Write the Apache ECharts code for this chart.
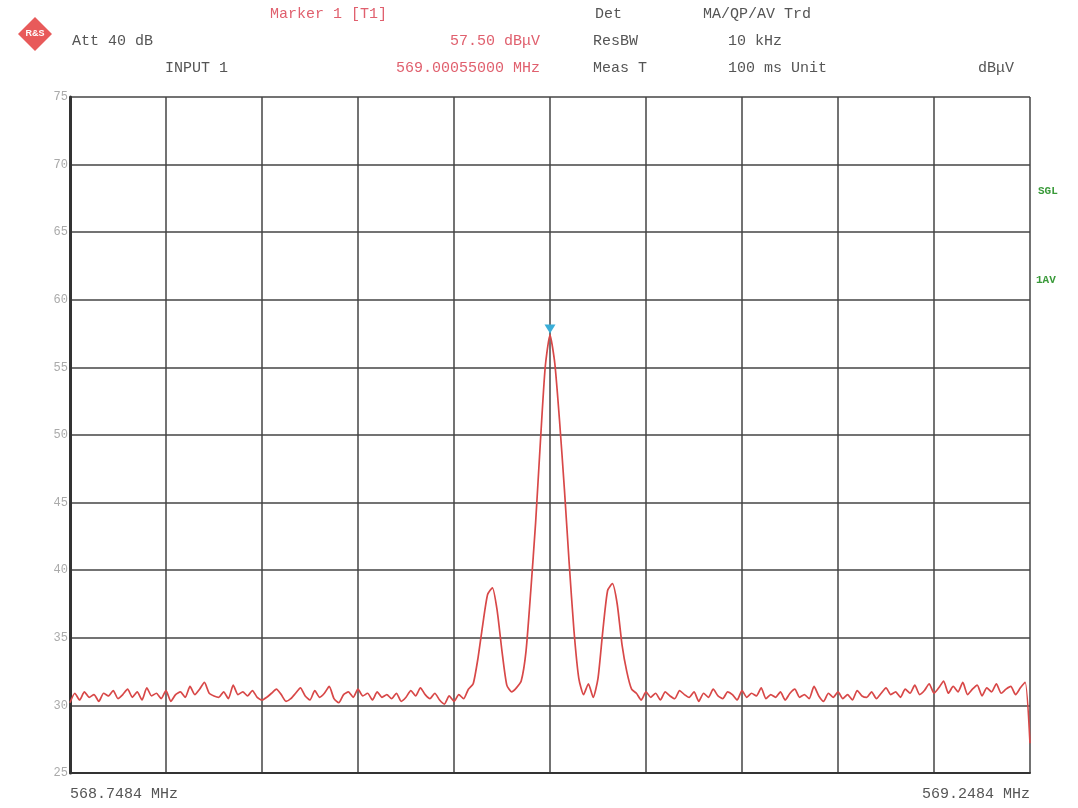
<!DOCTYPE html>
<html>
<head>
    <meta charset="utf-8">
    <title>Spectrum</title>
    <script src="https://cdn.jsdelivr.net/npm/echarts@6/dist/echarts.min.js"></script>
    <style>
        html, body { margin: 0; padding: 0; background: #fff; }
        #chart { width: 1078px; height: 808px; }
    </style>
</head>
<body>
<div id="chart"></div>
<script type="text/javascript">
    // span 568.7484 .. 569.2484 MHz, 2.5 kHz per point (offset in kHz)
    var stepKHz = 2.5;
    var startLabel = '568.7484 MHz';
    var stopLabel = '569.2484 MHz';
    var yTicks = [25, 30, 35, 40, 45, 50, 55, 60, 65, 70, 75];

    // trace levels in dBuV
    var levelsLeft = [
        30.2, 30.9, 30.4, 31.0, 30.6, 30.8, 30.3, 30.9, 30.7, 31.1,
        30.5, 30.8, 31.2, 30.6, 31.0, 30.4, 31.3, 30.7, 30.9, 30.5,
        31.1, 30.3, 30.8, 31.0, 30.6, 31.4, 30.8, 31.2, 31.7, 30.9,
        30.7, 30.6, 31.0, 30.5, 31.5, 30.8, 31.0, 30.7, 31.1, 30.6,
        30.4, 30.6, 30.9, 31.2, 30.8, 30.3, 30.5, 30.9, 31.3, 30.7,
        30.4, 31.1, 30.6, 30.9, 31.4, 30.5, 30.2, 30.8, 31.0, 30.6,
        31.2, 30.7, 30.9, 30.4, 31.0, 30.6, 30.8, 30.5, 30.9, 30.3,
        30.6, 31.1, 30.7, 31.3, 30.8, 30.5, 30.9, 30.4, 30.1, 30.7
    ];
    var levelsPeak = [
        30.3, 30.8, 30.5, 31.2, 31.6, 33.5, 36.0, 38.2, 38.7, 37.0,
        34.0, 31.5, 31.0, 31.3, 31.8, 34.0, 38.5, 43.5, 49.5, 55.0,
        57.4, 55.3, 51.0, 46.0, 40.5, 35.5, 32.0, 30.8, 31.6, 30.6,
        32.0, 35.5, 38.5, 39.0, 37.5, 34.5, 32.5, 31.2, 30.9, 30.4,
        31.0
    ];
    var levelsRight = [
        30.6, 30.9, 30.4, 31.0, 30.7, 30.5, 31.1, 30.8, 30.6, 31.0,
        30.3, 30.9, 30.6, 31.2, 30.7, 30.5, 31.0, 30.8, 30.4, 31.1,
        30.6, 30.9, 30.7, 31.3, 30.5, 30.8, 30.6, 31.0, 30.4, 30.9,
        31.2, 30.6, 30.8, 30.5, 31.4, 30.7, 30.3, 30.9, 30.6, 31.0,
        30.5, 30.8, 30.4, 31.1, 30.7, 30.6, 31.0, 30.5, 30.9, 31.3,
        30.8, 31.0, 30.6, 31.2, 30.9, 31.5, 30.8, 31.1, 31.6, 30.9,
        31.3, 31.8, 30.9, 31.4, 31.0, 31.7, 30.8, 31.2, 31.5, 30.7,
        31.3, 31.0, 31.6, 30.9, 31.2, 31.4, 30.8, 31.3, 31.7, 27.2
    ];
    var markerKHz = 250;
    var markerLevel = 57.4;

    var levels = levelsLeft.concat(levelsPeak, levelsRight);
    var trace = levels.map(function (v, i) { return [i * stepKHz, v]; });

    var mono = '"Liberation Mono", "DejaVu Sans Mono", monospace';
    var grey = '#555';
    var pink = '#e0606e';

    var myChart = echarts.init(document.getElementById('chart'));
    var option = {
        backgroundColor: '#fff',
        animation: false,
        grid: { left: 70, right: 48, top: 97, bottom: 35 },
        xAxis: {
            type: 'value', min: 0, max: 500, interval: 50,
            axisLabel: { show: false }, axisTick: { show: false },
            axisLine: { lineStyle: { color: '#333', width: 2 } },
            splitLine: { lineStyle: { color: '#444', width: 1.5 } }
        },
        yAxis: {
            type: 'value', min: 25, max: 75, interval: 5,
            axisLabel: { color: '#aaa', fontFamily: mono, fontSize: 12, margin: 2 },
            axisTick: { show: false },
            axisLine: { show: true, lineStyle: { color: '#333', width: 3 } },
            splitLine: { lineStyle: { color: '#444', width: 1.5 } }
        },
        series: [{
            type: 'line',
            data: trace,
            showSymbol: false,
            smooth: 0.2,
            lineStyle: { color: '#d84848', width: 1.7 },
            markPoint: {
                symbol: 'triangle', symbolRotate: 180, symbolSize: [11, 9],
                symbolOffset: [0, -6],
                itemStyle: { color: '#3aaed8' },
                label: { show: false },
                data: [{ coord: [markerKHz, markerLevel] }]
            }
        }],
        graphic: [
            { type: 'rect', shape: { x: -12, y: -12, width: 24, height: 24 }, x: 35, y: 34, rotation: Math.PI / 4,
              style: { fill: '#e85a5a' } },
            { type: 'text', x: 35, y: 34, style: { text: 'R&S', fill: '#fff', font: 'bold 9px sans-serif', align: 'center', verticalAlign: 'middle' } },
            { type: 'text', x: 72, y: 34, style: { text: 'Att 40 dB', fill: grey, font: '15px ' + mono } },
            { type: 'text', x: 165, y: 61, style: { text: 'INPUT 1', fill: grey, font: '15px ' + mono } },
            { type: 'text', x: 270, y: 7, style: { text: 'Marker 1 [T1]', fill: pink, font: '15px ' + mono } },
            { type: 'text', x: 540, y: 34, style: { text: '57.50 dBμV', fill: pink, font: '15px ' + mono, align: 'right' } },
            { type: 'text', x: 540, y: 61, style: { text: '569.00055000 MHz', fill: pink, font: '15px ' + mono, align: 'right' } },
            { type: 'text', x: 595, y: 7, style: { text: 'Det', fill: grey, font: '15px ' + mono } },
            { type: 'text', x: 593, y: 34, style: { text: 'ResBW', fill: grey, font: '15px ' + mono } },
            { type: 'text', x: 593, y: 61, style: { text: 'Meas T', fill: grey, font: '15px ' + mono } },
            { type: 'text', x: 703, y: 7, style: { text: 'MA/QP/AV Trd', fill: grey, font: '15px ' + mono } },
            { type: 'text', x: 728, y: 34, style: { text: '10 kHz', fill: grey, font: '15px ' + mono } },
            { type: 'text', x: 728, y: 61, style: { text: '100 ms Unit', fill: grey, font: '15px ' + mono } },
            { type: 'text', x: 978, y: 61, style: { text: 'dBμV', fill: grey, font: '15px ' + mono } },
            { type: 'text', x: 1038, y: 186, style: { text: 'SGL', fill: '#3a9a3a', font: 'bold 11px ' + mono } },
            { type: 'text', x: 1036, y: 275, style: { text: '1AV', fill: '#3a9a3a', font: 'bold 11px ' + mono } },
            { type: 'text', x: 70, y: 787, style: { text: startLabel, fill: grey, font: '15px ' + mono } },
            { type: 'text', x: 1030, y: 787, style: { text: stopLabel, fill: grey, font: '15px ' + mono, align: 'right' } }
        ]
    };
    myChart.setOption(option);
</script>
</body>
</html>
